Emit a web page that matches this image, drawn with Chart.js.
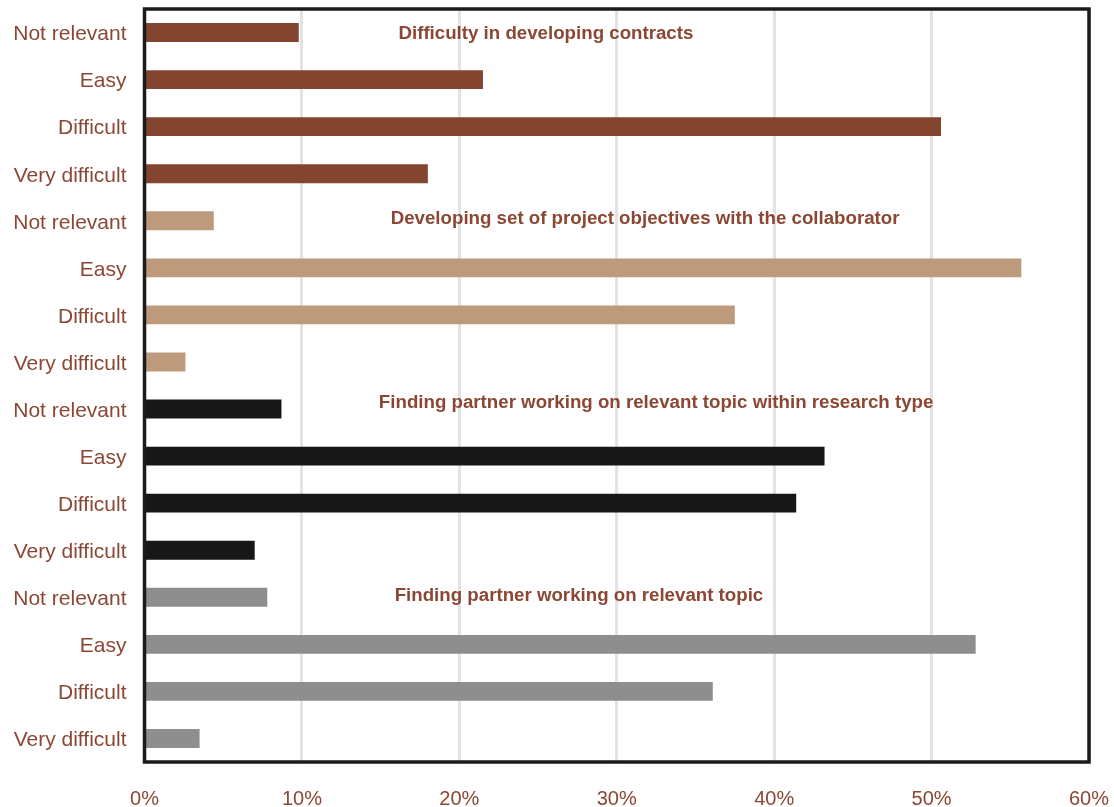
<!DOCTYPE html>
<html>
<head>
<meta charset="utf-8">
<script src="https://cdn.jsdelivr.net/npm/chart.js@4/dist/chart.umd.min.js"></script>
<style>
  html, body { margin: 0; padding: 0; background: #ffffff; }
  #wrap { width: 1114px; height: 807px; position: relative; }
</style>
</head>
<body>
<div id="wrap"><canvas id="c" width="1114" height="807"></canvas></div>
<script>
// ---- Data ----
const responseLevels = ["Not relevant", "Easy", "Difficult", "Very difficult"];
const groupTitles = [
  "Difficulty in developing contracts",
  "Developing set of project objectives with the collaborator",
  "Finding partner working on relevant topic within research type",
  "Finding partner working on relevant topic"
];
const contractsValues   = [9.8, 21.5, 50.6, 18.0];
const objectivesValues  = [4.4, 55.7, 37.5, 2.6];
const researchTypeValues = [8.7, 43.2, 41.4, 7.0];
const topicValues       = [7.8, 52.8, 36.1, 3.5];
const groupColors = ["#844530", "#BC9A7B", "#161716", "#8E8E8F"];
const xTicks = [0, 10, 20, 30, 40, 50, 60];

// ---- Build chart inputs ----
const groups = [contractsValues, objectivesValues, researchTypeValues, topicValues];
const labels = [];
const values = [];
const colors = [];
groups.forEach((g, gi) => {
  g.forEach((v, i) => {
    labels.push(responseLevels[i]);
    values.push(v);
    colors.push(groupColors[gi]);
  });
});

const textColor = "#8B4733";
const FONT = "'Liberation Sans', Arial, sans-serif";

// title placement: anchor x value (%) and y offset in category units from group's first row
const titleAnchors = [
  { x: 25.5, dy: 0.02 },
  { x: 31.8, dy: -0.05 },
  { x: 32.5, dy: -0.13 },
  { x: 27.6, dy: -0.04 }
];

const frameAndTitles = {
  id: "frameAndTitles",
  afterDatasetsDraw(chart) {
    const { ctx, chartArea: a, scales } = chart;
    ctx.save();
    ctx.strokeStyle = "#1b1b1b";
    ctx.lineWidth = 3.5;
    ctx.strokeRect(a.left, a.top, a.right - a.left, a.bottom - a.top);
    ctx.fillStyle = textColor;
    ctx.font = "bold 18.7px " + FONT;
    ctx.textAlign = "center";
    ctx.textBaseline = "middle";
    groupTitles.forEach((t, gi) => {
      const anc = titleAnchors[gi];
      const x = scales.x.getPixelForValue(anc.x);
      const y = scales.y.getPixelForValue(gi * responseLevels.length + anc.dy);
      ctx.fillText(t, x, y);
    });
    ctx.restore();
  }
};

new Chart(document.getElementById("c"), {
  type: "bar",
  data: {
    labels: labels,
    datasets: [{
      data: values,
      backgroundColor: colors,
      borderWidth: 0,
      barPercentage: 0.4,
      categoryPercentage: 1.0
    }]
  },
  options: {
    indexAxis: "y",
    responsive: false,
    animation: false,
    layout: { padding: { top: 9, right: 25, bottom: 0, left: 0 } },
    plugins: { legend: { display: false }, tooltip: { enabled: false } },
    scales: {
      x: {
        min: 0, max: 60,
        afterBuildTicks(scale) { scale.ticks = xTicks.map(v => ({ value: v })); },
        afterFit(scale) {
          scale.height = 45;
          scale.paddingLeft = 0; scale.paddingRight = 0;
        },
        grid: { color: "#E3E3E3", lineWidth: 3, drawTicks: false },
        border: { display: false },
        ticks: {
          color: textColor,
          font: { family: FONT, size: 20 },
          padding: 25,
          maxRotation: 0,
          callback: v => v + "%"
        }
      },
      y: {
        afterFit(scale) {
          scale.width = 144.5;
          scale.paddingTop = 0; scale.paddingBottom = 0;
        },
        grid: { display: false, drawTicks: false },
        border: { display: false },
        ticks: {
          color: textColor,
          font: { family: FONT, size: 21 },
          padding: 18,
          labelOffset: 2,
          autoSkip: false
        }
      }
    }
  },
  plugins: [frameAndTitles]
});
</script>
</body>
</html>
